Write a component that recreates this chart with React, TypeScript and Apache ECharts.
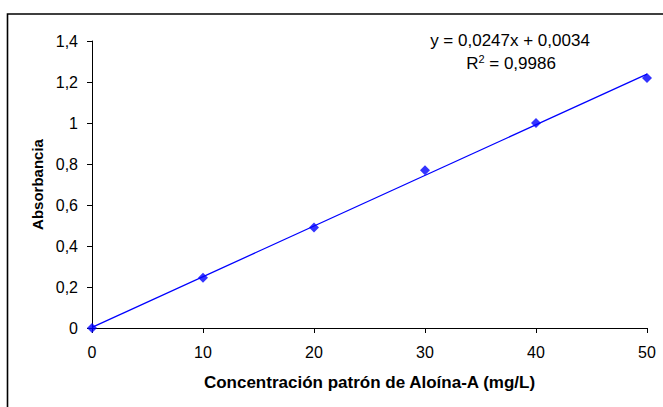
import React, { useEffect, useRef } from "react";
import * as echarts from "echarts";

// Calibration standards: concentration (mg/L) and measured absorbance
const concentrations = [0, 10, 20, 30, 40, 50];
const absorbances = [0, 0.245, 0.49, 0.77, 1.0, 1.22];

// Linear fit reported on the chart
const slope = 0.0247;
const intercept = 0.0034;
const rSquared = "0,9986";

const xTicks = { min: 0, max: 50, interval: 10 };
const yTicks = { min: 0, max: 1.4, interval: 0.2 };

const FONT = "'Liberation Sans', Arial, sans-serif";

const fmt = (v: number) => String(Number(v.toFixed(1))).replace(".", ",");

export default function App() {
  const ref = useRef<HTMLDivElement>(null);

  useEffect(() => {
    if (!ref.current) return;
    const chart = echarts.init(ref.current, undefined, { renderer: "svg" });

    const fitLine = [xTicks.min, xTicks.max].map((x) => [x, slope * x + intercept]);
    const points = concentrations.map((c, i) => [c, absorbances[i]]);

    chart.setOption({
      animation: false,
      backgroundColor: "#ffffff",
      grid: { left: 92, right: 16, top: 41, bottom: 79 },
      xAxis: {
        type: "value",
        min: xTicks.min,
        max: xTicks.max,
        interval: xTicks.interval,
        name: "Concentración patrón de Aloína-A (mg/L)",
        nameLocation: "middle",
        nameGap: 46,
        nameTextStyle: { fontFamily: FONT, fontSize: 17, fontWeight: "bold", color: "#000" },
        axisLine: { show: true, lineStyle: { color: "#000", width: 1 } },
        axisTick: { show: true, length: 5, lineStyle: { color: "#000" } },
        axisLabel: { fontFamily: FONT, fontSize: 16, color: "#000", margin: 16 },
        splitLine: { show: false },
      },
      yAxis: {
        type: "value",
        min: yTicks.min,
        max: yTicks.max,
        interval: yTicks.interval,
        name: "Absorbancia",
        nameLocation: "middle",
        nameGap: 47,
        nameTextStyle: { fontFamily: FONT, fontSize: 15, fontWeight: "bold", color: "#000" },
        axisLine: { show: true, lineStyle: { color: "#000", width: 1 } },
        axisTick: { show: true, length: 5, lineStyle: { color: "#000" } },
        axisLabel: { fontFamily: FONT, fontSize: 16, color: "#000", margin: 14, formatter: fmt },
        splitLine: { show: false },
      },
      graphic: [
        {
          type: "rect",
          silent: true,
          shape: { x: 7.5, y: 14, width: 700, height: 500 },
          style: { fill: "none", stroke: "#000", lineWidth: 1.6 },
          z: -1,
        },
        {
          type: "text",
          x: 510,
          y: 40,
          style: {
            text: "y = 0,0247x + 0,0034",
            fontFamily: FONT,
            fontSize: 17,
            fill: "#000",
            align: "center",
            verticalAlign: "middle",
          },
        },
        {
          type: "text",
          x: 511,
          y: 63,
          style: {
            text: "{n|R}{s|2}{n| = " + rSquared + "}",
            align: "center",
            verticalAlign: "middle",
            rich: {
              n: { fontFamily: FONT, fontSize: 17, fill: "#000", color: "#000" },
              s: {
                fontFamily: FONT,
                fontSize: 11,
                fill: "#000",
                color: "#000",
                verticalAlign: "top",
                padding: [0, 0, 8, 0],
              },
            },
          },
        },
      ],
      series: [
        {
          type: "line",
          data: fitLine,
          symbol: "none",
          lineStyle: { color: "#0000ff", width: 1.3 },
          z: 2,
        },
        {
          type: "scatter",
          data: points,
          symbol: "diamond",
          symbolSize: 10,
          itemStyle: { color: "#0000ff" },
          z: 3,
        },
      ],
    });

    return () => chart.dispose();
  }, []);

  return (
    <div
      ref={ref}
      style={{ position: "fixed", left: 0, top: 0, width: 663, height: 407 }}
    />
  );
}
